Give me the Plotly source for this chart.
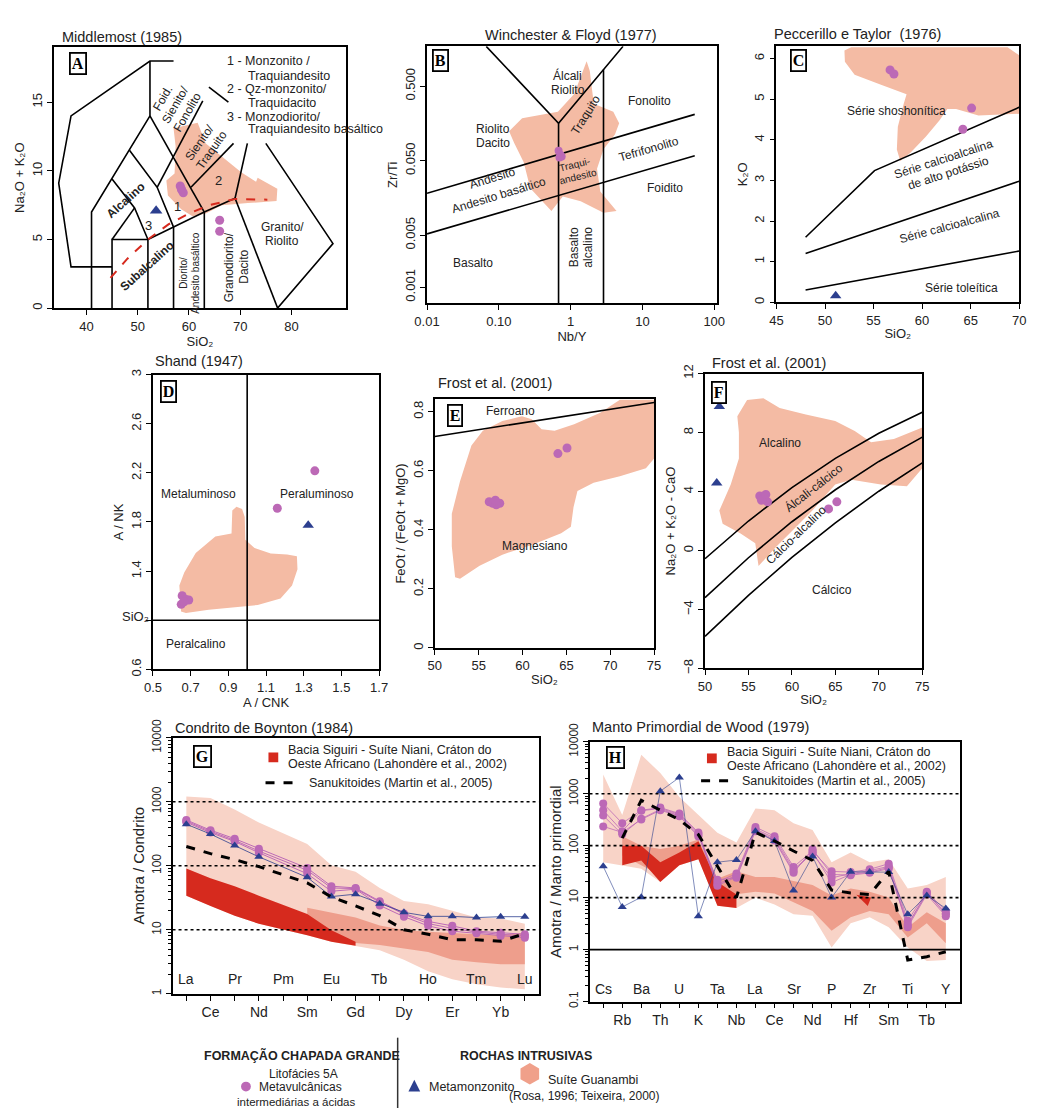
import numpy as np
import plotly.graph_objects as go

W, H = 1037, 1115
FONT = "Liberation Sans, Arial, sans-serif"
SERIF = "Liberation Serif, DejaVu Serif, serif"
PINK = "#F4BBA4"
MAG = "#BC69B6"
BLUE = "#2C3F8F"
RED = "#D62A1E"
LIGHT = "#F8D3C7"
MID = "#EE9E8C"
TXT = "#222222"

# ---------------- Panel A : Middlemost (1985) ----------------
A_lines = [
    ([45, 37, 34.6, 37, 52.4, 57], [3, 3, 9.1, 14, 18, 18]),
    ([52.4, 52.4], [18, 14]),
    ([41, 41, 52.4], [0, 7, 14]),
    ([52.4, 63], [14, 7]),
    ([45, 45, 52, 52], [0, 5, 5, 0]),
    ([52, 57, 63, 69], [5, 5.9, 7, 8]),
    ([57, 57], [0, 5.9]),
    ([63, 63], [0, 7]),
    ([69, 77.3], [8, 0]),
    ([69, 71.4], [8, 12]),
    ([48.4, 53.8, 57], [11.5, 8.8, 5.9]),
    ([45, 49.4, 52], [9.4, 7.3, 5]),
    ([45, 49.4], [5, 7.3]),
    ([53.8, 62.7], [8.8, 15.1]),
    ([60.4, 68.7], [8.8, 12.0]),
    ([63.9, 67.7], [16.1, 15.0]),
    ([75, 88.1, 77.3], [12, 4.7, 0]),
]
A_pink_x = [57.0, 61.7, 63.3, 67.7, 70.2, 73.1, 73.4, 77.25, 77.1, 71.5, 66.4, 63.3, 60.7, 58.5, 55.9, 55.6, 57.2, 57.4]
A_pink_y = [13.1, 13.5, 12.0, 10.7, 9.9, 9.2, 9.5, 8.7, 7.8, 7.65, 7.5, 6.9, 6.7, 7.2, 8.2, 9.3, 9.8, 11.8]
A_red_x = [44.7, 48, 52, 56, 60, 64, 69, 75.3]
A_red_y = [2.2, 3.6, 5.0, 6.1, 6.9, 7.5, 7.95, 7.9]
A_circ_x = [58.3, 58.6, 58.9, 58.5, 66.0, 66.0]
A_circ_y = [8.9, 8.6, 8.4, 8.7, 6.4, 5.6]
A_tri_x = [53.6]
A_tri_y = [7.1]

# ---------------- Panel B : Winchester & Floyd (1977) ----------------
B_lines = [
    ([0.0668, 0.679, 5.37], [1.71, 0.159, 1.71]),
    ([0.679, 0.679], [0.159, 0.000612]),
    ([2.87, 2.87], [0.834, 0.000612]),
    ([0.01, 53.5], [0.0183, 0.209]),
    ([0.01, 53.5], [0.00521, 0.0583]),
]
B_pink_x = [0.139, 0.211, 0.665, 1.12, 1.67, 1.85, 2.10, 3.93, 4.74, 4.14, 2.87, 2.33, 2.59, 4.36, 2.87, 1.38, 0.778, 0.54, 0.274, 0.222, 0.163]
B_pink_y = [0.124, 0.185, 0.226, 0.393, 1.08, 0.80, 0.291, 0.226, 0.159, 0.112, 0.0713, 0.039, 0.0193, 0.01055, 0.01, 0.01425, 0.0166, 0.01055, 0.0213, 0.0477, 0.087]
B_circ_x = [0.68, 0.72, 0.75, 0.70]
B_circ_y = [0.068, 0.060, 0.057, 0.055]

# ---------------- Panel C : Peccerillo & Taylor (1976) ----------------
C_lines = [
    ([48, 55.1, 70], [1.6, 3.24, 4.8]),
    ([48, 70], [1.2, 2.98]),
    ([48, 70], [0.3, 1.26]),
]
C_pink_x = [52.0, 52.7, 68.8, 70, 70, 65.8, 63.5, 62.6, 61.8, 60.4, 58.8, 57.75, 57.4, 57.5, 58.1, 58.4, 55.7, 53.05, 52.05]
C_pink_y = [6.2, 6.28, 6.28, 6.08, 4.64, 4.6, 4.76, 4.76, 4.48, 4.08, 3.68, 3.48, 3.76, 4.32, 4.88, 5.12, 5.36, 5.6, 5.92]
C_circ_x = [56.7, 57.1, 65.1, 64.2]
C_circ_y = [5.72, 5.62, 4.78, 4.26]
C_tri_x = [51.1]
C_tri_y = [0.16]

# ---------------- Panel D : Shand (1947) ----------------
D_lines = [([1.0, 1.0], [0.6, 3.0]), ([0.5, 1.7], [1.0, 1.0])]
D_pink_x = [0.649, 0.640, 0.666, 0.727, 0.831, 0.917, 0.921, 0.943, 0.973, 0.987, 0.99, 1.039, 1.125, 1.212, 1.264, 1.267, 1.238, 1.177, 1.056, 0.917, 0.796, 0.675]
D_pink_y = [1.071, 1.284, 1.389, 1.548, 1.681, 1.707, 1.893, 1.925, 1.906, 1.840, 1.655, 1.588, 1.544, 1.536, 1.522, 1.416, 1.284, 1.178, 1.125, 1.103, 1.085, 1.059]
D_circ_x = [0.655, 0.675, 0.69, 0.65, 0.665, 1.16, 1.359]
D_circ_y = [1.20, 1.17, 1.165, 1.13, 1.15, 1.912, 2.216]
D_tri_x = [1.324]
D_tri_y = [1.774]

# ---------------- Panel E : Frost et al. (2001) ----------------
E_lines = [([50, 75], [0.716, 0.831])]
E_pink_x = [52.31, 51.93, 51.93, 52.87, 54.17, 55.47, 57.7, 59.93, 61.05, 62.17, 63.65, 65.88, 68.86, 71.1, 75, 75, 74.07, 71.1, 68.1, 66.26, 65.81, 65.51, 64.4, 61.05, 57.7, 55.1, 52.87]
E_pink_y = [0.239, 0.344, 0.454, 0.564, 0.685, 0.735, 0.768, 0.784, 0.774, 0.740, 0.735, 0.757, 0.796, 0.840, 0.840, 0.641, 0.608, 0.581, 0.559, 0.531, 0.476, 0.410, 0.388, 0.349, 0.316, 0.278, 0.234]
E_circ_x = [56.2, 56.6, 57.0, 57.4, 56.9, 64.03, 65.07]
E_circ_y = [0.495, 0.49, 0.485, 0.49, 0.50, 0.658, 0.677]

# ---------------- Panel F : Frost et al. (2001) ----------------
F_sio2 = [50, 55, 60, 65, 70, 75]
F_alk = [-0.56, 2.0, 4.27, 6.25, 7.95, 9.37]
F_alkcal = [-3.2, -0.49, 1.95, 4.12, 6.04, 7.69]
F_calalk = [-5.82, -3.04, -0.47, 1.88, 4.02, 5.94]
F_pink_x = [53.72, 54.84, 56.72, 58.59, 61.6, 64.98, 67.23, 69.11, 71.73, 75, 75, 73.23, 70.24, 66.86, 64.98, 62.35, 60.1, 58.22, 56.16, 55.78, 54.09, 52.03, 51.65, 52.96, 53.9, 53.9]
F_pink_y = [9.11, 10.21, 10.32, 9.66, 9.22, 8.78, 8.11, 7.34, 7.56, 8.34, 5.58, 4.36, 4.47, 4.80, 4.47, 2.71, 1.38, 0.28, -1.05, 0.5, 1.16, 1.82, 2.71, 4.47, 6.24, 8.0]
F_circ_x = [56.3, 56.8, 57.2, 56.5, 57.0, 64.22, 65.17]
F_circ_y = [3.7, 3.6, 3.3, 3.4, 3.8, 2.82, 3.30]
F_tri_x = [51.65, 51.35]
F_tri_y = [9.77, 4.58]

# ---------------- Panel G : Boynton (1984) chondrite ----------------
G_el = ["La", "Ce", "Pr", "Nd", "Pm", "Sm", "Eu", "Gd", "Tb", "Dy", "Ho", "Er", "Tm", "Yb", "Lu"]
G_mag = [
    [520, 360, 265, 185, None, 92, 48, 45, 28, 18, 13.5, 11.5, 9.5, 9, 8.5],
    [500, 345, 250, 170, None, 85, 45, 44, 27, 17.5, 12.5, 10.5, 9.2, 8.5, 8],
    [480, 330, 240, 160, None, 75, 40, 43, 24, 16, 11.5, 9.5, 8.8, 8, 7.5],
]
G_tri = [447, 313, 207, 138, None, 66, 33, 36, 25.6, 18.7, 16.2, 16.2, 15.5, 16, 16]
G_sanuk = [200, 155, 125, 97, None, 54, 32.5, 23.6, 16.6, 10, 8.5, 7, 7, 6.6, 8.7]
G_light_up = [1210, 1150, 760, 473, None, 220, 102, 81, 45, 28.2, 25, 19.8, 15.6, 15, 12.4]
G_light_lo = [34, 23.6, 16.6, 12.4, None, 8.2, 6.5, 5.6, 4.8, 3.4, 2.25, 1.68, 1.41, 1.25, 1.18]
G_mid_up = [None, None, None, None, None, 22, 18.6, 15.6, 11.7, 9.9, 9.3, 8.8, 8.5, 8.3, 9]
G_mid_lo = [None, None, None, None, None, 9, 7, 6.2, 5.8, 5.1, 4.5, 3.4, 3.1, 2.9, 2.9]
G_red_up = [91, 64, 48, 34, None, 17.6, 9.8, 6.5, None, None, None, None, None, None, None]
G_red_lo = [34, 23.6, 16.6, 12.4, None, 8.2, 6.5, 5.6, None, None, None, None, None, None, None]
G_ref = [10, 100, 1000]

# ---------------- Panel H : Wood (1979) primordial mantle ----------------
H_el = ["Cs", "Rb", "Ba", "Th", "U", "K", "Ta", "Nb", "La", "Ce", "Sr", "Nd", "P", "Hf", "Zr", "Sm", "Ti", "Tb", "Y"]
H_mag = [
    [650, 270, 480, 540, 415, 180, 20, 29, 228, 152, 39, 79, 32, 31, 35, 45, 3.6, 13, 5.5],
    [480, 190, 470, 520, 400, 170, 18, 27, 210, 140, 35, 70, 24, 29, 33, 40, 3.1, 12, 5.0],
    [380, 165, 330, 500, 380, 160, 17, 25, 200, 130, 32, 75, 19.5, 28, 31, 38, 2.7, 11.5, 4.4],
    [235, 180, 320, 480, 370, 150, 22, 24, 190, 125, 30, 85, 28, 27, 30, 36, 2.9, 12.5, 4.8],
]
H_tri = [40, 6.6, 10.2, 1120, 2050, 4.4, 48, 53, 190, 123, 13.7, 62, 10, 31.6, 31, 31, 4.8, 11, 6.2]
H_sanuk = [None, 140, 745, 480, 316, 163, 40, 10, 180, 123, 79, 52, 14, 12.3, 11.5, 32, 0.63, 0.73, 0.91]
H_light_up = [2350, 390, 5600, 2500, 860, 390, 178, 115, 520, 480, 270, 200, 48, 74, 48, 55, 15, 17.5, 25]
H_light_lo = [48, 42, 36, 20, 42, 55, 7, 6.3, 10, 7.4, 4.8, 4.5, 1.1, 3.2, 4.2, 2.7, 1.1, 0.6, 0.63]
H_mid_up = [None, 152, 100, 86, 100, 132, 23, 32, 25, 25, 21, 17.5, 11, 15, 13, 10, 2.7, 5.2, 3.2]
H_mid_lo = [None, 65, 42, 27, 50, 60, 13, 11.6, 13, 12, 8, 5.5, 2.3, 4.2, 5.5, 4.8, 1.7, 3.2, 1.33]
H_red_up = [None, 100, 100, 48, 74, 122, 20, 11.5] + [None] * 11
H_red_lo = [None, 42, 52, 20, 42, 55, 7, 6.3] + [None] * 11
H_red2_x = [13.3, 14.07, 13.9]
H_red2_y = [11.4, 10, 6.9]
H_ref = [10, 100, 1000]
H_base = 1

# =====================================================================
fig = go.Figure()


def P(px):
    return px / W


def Q(py):
    return 1 - py / H


def ax(n):
    return ("x" if n == 1 else f"x{n}"), ("y" if n == 1 else f"y{n}")


def poly(n, xs, ys, color):
    xa, ya = ax(n)
    fig.add_trace(go.Scatter(x=list(xs) + [xs[0]], y=list(ys) + [ys[0]], mode="lines", fill="toself",
                             fillcolor=color, line=dict(width=0), hoverinfo="skip", showlegend=False,
                             xaxis=xa, yaxis=ya))


def band(n, up, lo, color):
    idx = [i for i in range(len(up)) if up[i] is not None and lo[i] is not None]
    xs = idx + idx[::-1]
    ys = [up[i] for i in idx] + [lo[i] for i in idx[::-1]]
    poly(n, xs, ys, color)


def line(n, xs, ys, color="black", width=1.6, dash=None):
    xa, ya = ax(n)
    fig.add_trace(go.Scatter(x=xs, y=ys, mode="lines", line=dict(color=color, width=width, dash=dash),
                             hoverinfo="skip", showlegend=False, xaxis=xa, yaxis=ya, connectgaps=True))


def pts(n, xs, ys, symbol="circle", color=MAG, size=9):
    xa, ya = ax(n)
    fig.add_trace(go.Scatter(x=xs, y=ys, mode="markers",
                             marker=dict(symbol=symbol, color=color, size=size, line=dict(width=0)),
                             hoverinfo="skip", showlegend=False, xaxis=xa, yaxis=ya))


def series(n, xs, ys, color, symbol, size, lw):
    xa, ya = ax(n)
    fig.add_trace(go.Scatter(x=xs, y=ys, mode="lines+markers", connectgaps=True,
                             line=dict(color=color, width=lw),
                             marker=dict(symbol=symbol, color=color, size=size, line=dict(width=0)),
                             hoverinfo="skip", showlegend=False, xaxis=xa, yaxis=ya))


annots = []


def txt(text, x, y, n=None, size=12, angle=0, family=FONT, xanchor="center", color=TXT,
        logx=False, logy=False, xshift=0, yshift=0):
    if n is None:
        xr, yr = "paper", "paper"
        x, y = P(x), Q(y)
    else:
        xa, ya = ax(n)
        xr, yr = xa, ya
        if logx:
            x = float(np.log10(x))
        if logy:
            y = float(np.log10(y))
    annots.append(dict(text=text, x=x, y=y, xref=xr, yref=yr, showarrow=False, textangle=angle,
                       xanchor=xanchor, yanchor="middle", xshift=xshift, yshift=yshift,
                       font=dict(family=family, size=size, color=color)))


def mtxt(lines, x, y, n, size=12, angle=0, **kw):
    """multi-line label written as one annotation per line, stacked perpendicular to the text direction"""
    th = np.radians(angle)
    lh = 1.2 * size
    k = len(lines)
    for i, s in enumerate(lines):
        d = (i - (k - 1) / 2) * lh
        txt(s, x, y, n, size, angle, xshift=float(-np.sin(th) * d), yshift=float(-np.cos(th) * d), **kw)


def letter(L, cx, cy):
    annots.append(dict(text=f"<b>{L}</b>", x=P(cx), y=Q(cy), xref="paper", yref="paper", showarrow=False,
                       font=dict(family=SERIF, size=16, color="black"), bordercolor="black", borderwidth=1.8,
                       borderpad=1, bgcolor="white", xanchor="center", yanchor="middle"))


# ---------------- draw A ----------------
poly(1, A_pink_x, A_pink_y, PINK)
for xs, ys in A_lines:
    line(1, xs, ys)
line(1, A_red_x, A_red_y, color=RED, width=2, dash="dash")
pts(1, A_circ_x, A_circ_y)
pts(1, A_tri_x, A_tri_y, "triangle-up", BLUE, 11)
mtxt(["Foid.", "Sienito/", "Fonolito"], 57.3, 14.8, 1, 12, -60)
mtxt(["Sienito/", "Traquito"], 63.3, 11.8, 1, 12, -55)
txt("<b>Alcalino</b>", 47.7, 7.9, 1, 12, -42)
txt("<b>Subalcalino</b>", 51.8, 3.1, 1, 12, -42)
mtxt(["Diorito/", "Andesito basáltico"], 60.1, 2.6, 1, 10, -90)
mtxt(["Granodiorito/", "Dacito"], 69.3, 3.0, 1, 12, -90)
mtxt(["Granito/", "Riolito"], 78.2, 5.4, 1, 12)
txt("1", 57.8, 7.4, 1, 13)
txt("2", 65.7, 9.3, 1, 13)
txt("3", 52.2, 6.0, 1, 13)
for s, xx, yy in [("1 - Monzonito /", 217, 43), ("Traquiandesito", 238, 58), ("2 - Qz-monzonito/", 217, 72),
                  ("Traquidacito", 238, 86), ("3 - Monzodiorito/", 217, 100), ("Traquiandesito basáltico", 238, 113)]:
    txt(s, xx, yy, None, 12.5, xanchor="left")

# ---------------- draw B ----------------
poly(2, B_pink_x, B_pink_y, PINK)
for xs, ys in B_lines:
    line(2, xs, ys)
pts(2, B_circ_x, B_circ_y, size=8)
for s, xx, yy, ang, sz in [(["Álcali", "Riolito"], 0.91, 0.56, 0, 12), (["Fonolito"], 12.4, 0.32, 0, 12),
                           (["Riolito", "Dacito"], 0.082, 0.107, 0, 12), (["Traquito"], 1.62, 0.205, -58, 12),
                           (["Tefrifonolito"], 12.4, 0.071, -16, 12), (["Traqui-", "andesito"], 1.2, 0.037, -14, 10),
                           (["Andesito"], 0.082, 0.029, -17, 12), (["Andesito basáltico"], 0.1016, 0.0174, -17, 12),
                           (["Foidito"], 20.9, 0.0213, 0, 12), (["Basalto"], 0.044, 0.0021, 0, 12),
                           (["Basalto", "alcalino"], 1.38, 0.0035, -90, 12)]:
    mtxt(s, xx, yy, 2, sz, ang, logx=True, logy=True)

# ---------------- draw C ----------------
poly(3, C_pink_x, C_pink_y, PINK)
for xs, ys in C_lines:
    line(3, xs, ys)
pts(3, C_circ_x, C_circ_y)
pts(3, C_tri_x, C_tri_y, "triangle-up", BLUE, 10)
txt("Série shoshonítica", 52.05, 4.72, 3, 12, xanchor="left")
mtxt(["Série calcioalcalina", "de alto potássio"], 62.45, 3.36, 3, 12, -18)
txt("Série calcioalcalina", 62.8, 1.88, 3, 12, -15)
txt("Série toleítica", 64.1, 0.36, 3, 12)

# ---------------- draw D ----------------
poly(4, D_pink_x, D_pink_y, PINK)
for xs, ys in D_lines:
    line(4, xs, ys)
pts(4, D_circ_x, D_circ_y)
pts(4, D_tri_x, D_tri_y, "triangle-up", BLUE, 10)
txt("Metaluminoso", 0.744, 2.025, 4, 12)
txt("Peraluminoso", 1.368, 2.025, 4, 12)
txt("Peralcalino", 0.727, 0.807, 4, 12)
txt("SiO₂", 125, 612, None, 13)

# ---------------- draw E ----------------
poly(5, E_pink_x, E_pink_y, PINK)
for xs, ys in E_lines:
    line(5, xs, ys)
pts(5, E_circ_x, E_circ_y)
txt("Ferroano", 58.63, 0.801, 5, 12)
txt("Magnesiano", 61.42, 0.344, 5, 12)

# ---------------- draw F ----------------
poly(6, F_pink_x, F_pink_y, PINK)
for ys in (F_alk, F_alkcal, F_calalk):
    line(6, F_sio2, ys)
pts(6, F_circ_x, F_circ_y)
pts(6, F_tri_x, F_tri_y, "triangle-up", BLUE, 10)
txt("Alcalino", 58.59, 7.3, 6, 12)
txt("Álcali-cálcico", 62.5, 4.25, 6, 12, -38)
txt("Cálcio-alcalino", 60.47, 1.05, 6, 12, -44)
txt("Cálcico", 64.6, -2.7, 6, 12)

# ---------------- draw G ----------------
band(7, G_light_up, G_light_lo, LIGHT)
band(7, G_mid_up, G_mid_lo, MID)
band(7, G_red_up, G_red_lo, RED)
gx = list(range(len(G_el)))
for s in G_mag:
    series(7, gx, s, MAG, "circle", 8, 1)
series(7, gx, G_tri, BLUE, "triangle-up", 8, 0.8)
line(7, gx, G_sanuk, "black", 3, "dash")
for i, e in enumerate(G_el):
    if i % 2 == 0:
        annots.append(dict(text=e, x=i, y=0.23, xref="x7", yref="y7", showarrow=False,
                           font=dict(family=FONT, size=14, color=TXT)))

# ---------------- draw H ----------------
band(8, H_light_up, H_light_lo, LIGHT)
band(8, H_mid_up, H_mid_lo, MID)
band(8, H_red_up, H_red_lo, RED)
poly(8, H_red2_x, H_red2_y, RED)
hx = list(range(len(H_el)))
for s in H_mag:
    series(8, hx, s, MAG, "circle", 8, 0.8)
series(8, hx, H_tri, BLUE, "triangle-up", 8, 0.6)
line(8, hx, H_sanuk, "black", 3, "dash")
for i, e in enumerate(H_el):
    if i % 2 == 0:
        annots.append(dict(text=e, x=i, y=-0.76, xref="x8", yref="y8", showarrow=False,
                           font=dict(family=FONT, size=14, color=TXT)))

# reference lines G/H (shape coordinates on log axes are data values)
shapes = []
for v in G_ref:
    shapes.append(dict(type="line", xref="x7 domain", yref="y7", x0=0, x1=1, y0=v, y1=v,
                       line=dict(color="black", width=1.6, dash="dot")))
for v in H_ref:
    shapes.append(dict(type="line", xref="x8 domain", yref="y8", x0=0, x1=1, y0=v, y1=v,
                       line=dict(color="black", width=1.6, dash="dot")))
shapes.append(dict(type="line", xref="x8 domain", yref="y8", x0=0, x1=1, y0=H_base, y1=H_base,
                   line=dict(color="black", width=1.6)))

# legends inside G and H
for sqx, sqy, tx, ty1, ty2, dx0, dx1, dy, tx2 in [(266, 756, 279, 748, 763, 258, 287, 782, 300),
                                                  (714, 757, 727, 750, 765, 703, 731, 780, 743)]:
    shapes.append(dict(type="rect", xref="paper", yref="paper", x0=P(sqx - 5), x1=P(sqx + 5),
                       y0=Q(sqy + 5), y1=Q(sqy - 5), fillcolor=RED, line=dict(width=0)))
    shapes.append(dict(type="line", xref="paper", yref="paper", x0=P(dx0), x1=P(dx1), y0=Q(dy), y1=Q(dy),
                       line=dict(color="black", width=3, dash="dash")))
    txt("Bacia Siguiri - Suíte Niani, Cráton do", tx, ty1, None, 12.5, xanchor="left")
    txt("Oeste Africano (Lahondère et al., 2002)", tx, ty2, None, 12.5, xanchor="left")
    txt("Sanukitoides (Martin et al., 2005)", tx2, dy, None, 12.5, xanchor="left")

# panel titles
for s, xx, yy in [("Middlemost (1985)", 48, 18), ("Winchester & Floyd (1977)", 480, 16),
                  ("Peccerillo e Taylor  (1976)", 775, 15), ("Shand (1947)", 143, 350),
                  ("Frost et al. (2001)", 432, 373), ("Frost et al. (2001)", 712, 352),
                  ("Condrito de Boynton (1984)", 163, 726), ("Manto Primordial de Wood (1979)", 590, 725)]:
    txt(s, xx, yy, None, 14.5, xanchor="left")

for L, cx, cy in [("A", 66, 46), ("B", 437, 43), ("C", 803, 42), ("D", 159, 381), ("E", 452, 406),
                  ("F", 721, 382), ("G", 194, 755), ("H", 616, 756)]:
    letter(L, cx, cy)

# bottom legend
txt("<b>FORMAÇÃO CHAPADA GRANDE</b>", 295, 1061, None, 12.5)
txt("Litofácies 5A", 297, 1080, None, 12)
txt("Metavulcânicas", 294, 1094, None, 12)
txt("intermediárias a ácidas", 290, 1109, None, 11.5)
txt("<b>ROCHAS INTRUSIVAS</b>", 524, 1062, None, 12.5)
txt("Metamonzonito", 423, 1093, None, 12.5, xanchor="left")
txt("Suíte Guanambi", 545, 1086, None, 12.5, xanchor="left")
txt("(Rosa, 1996; Teixeira, 2000)", 584, 1103, None, 12)
shapes.append(dict(type="circle", xref="paper", yref="paper", x0=P(233), x1=P(243), y0=Q(1098), y1=Q(1088),
                   fillcolor=MAG, line=dict(width=0)))
shapes.append(dict(type="path", xref="paper", yref="paper",
                   path=f"M {P(404)},{Q(1098)} L {P(416)},{Q(1098)} L {P(410)},{Q(1086)} Z",
                   fillcolor=BLUE, line=dict(width=0)))
hexpts = []
for k in range(6):
    a = np.radians(90 + 60 * k)
    hexpts.append(f"{P(528 + 11 * np.cos(a))},{Q(1080 - 11 * np.sin(a))}")
shapes.append(dict(type="path", xref="paper", yref="paper", path="M " + " L ".join(hexpts) + " Z",
                   fillcolor="#F0A08A", line=dict(width=0)))
shapes.append(dict(type="line", xref="paper", yref="paper", x0=P(393), x1=P(393), y0=Q(1043), y1=Q(1115),
                   line=dict(color="#333", width=1.5)))

# ---------------- axes ----------------
TICKF = dict(family=FONT, size=13, color=TXT)
TITF = dict(family=FONT, size=13, color=TXT)


def base():
    return dict(showline=True, linecolor="black", linewidth=1.8, mirror=True, ticks="outside", ticklen=5,
                tickcolor="black", tickwidth=1, showgrid=False, zeroline=False, tickfont=TICKF)


layout_axes = {}
specs = {
    1: ((42, 340), (29, 296)),
    2: ((423, 719), (28, 291)),
    3: ((780, 1028), (28, 290)),
    4: ((143, 374), (364, 666)),
    5: ((431, 655), (389, 644)),
    6: ((707, 929), (363, 665)),
    7: ((163, 537), (736, 998)),
    8: ((589, 968), (740, 1006)),
}
xk = {}
yk = {}
xk[1] = dict(range=[33.7, 90.6], tickvals=[40, 50, 60, 70, 80], title=dict(text="SiO₂", font=TITF, standoff=2))
yk[1] = dict(range=[0, 19], tickvals=[0, 5, 10, 15], tickangle=-90,
             title=dict(text="Na₂O + K₂O", font=TITF, standoff=2))
xk[2] = dict(type="log", range=[-2, 2.035], tickvals=[0.01, 0.1, 1, 10, 100], ticktext=["0.01", "0.10", "1", "10", "100"],
             title=dict(text="Nb/Y", font=TITF, standoff=2))
yk[2] = dict(type="log", range=[-3.213, 0.233], tickvals=[0.001, 0.005, 0.05, 0.5],
             ticktext=["0.001", "0.005", "0.050", "0.500"], tickangle=-90,
             title=dict(text="Zr/Ti", font=TITF, standoff=2))
xk[3] = dict(range=[45, 70], tickvals=[45, 50, 55, 60, 65, 70], title=dict(text="SiO₂", font=TITF, standoff=2))
yk[3] = dict(range=[0, 6.3], tickvals=[0, 1, 2, 3, 4, 5, 6], tickangle=-90,
             title=dict(text="K₂O", font=TITF, standoff=2))
xk[4] = dict(range=[0.5, 1.7], tickvals=[0.5, 0.7, 0.9, 1.1, 1.3, 1.5, 1.7],
             title=dict(text="A / CNK", font=TITF, standoff=2))
yk[4] = dict(range=[0.6, 3.0], tickvals=[0.6, 1.4, 1.8, 2.2, 2.6, 3.0],
             ticktext=["0.6", "1.4", "1.8", "2.2", "2.6", "3"], tickangle=-90,
             minor=dict(tickmode="array", tickvals=[1.0], ticks="outside", ticklen=5, tickcolor="black"),
             title=dict(text="A / NK", font=TITF, standoff=2))
xk[5] = dict(range=[50, 75], tickvals=[50, 55, 60, 65, 70, 75], title=dict(text="SiO₂", font=TITF, standoff=2))
yk[5] = dict(range=[0, 0.843], tickvals=[0, 0.2, 0.4, 0.6, 0.8], ticktext=["0", "0.2", "0.4", "0.6", "0.8"],
             tickangle=-90, title=dict(text="FeOt / (FeOt + MgO)", font=TITF, standoff=2))
xk[6] = dict(range=[50, 75], tickvals=[50, 55, 60, 65, 70, 75], title=dict(text="SiO₂", font=TITF, standoff=2))
yk[6] = dict(range=[-8, 12], tickvals=[-8, -4, 0, 4, 8, 12], tickangle=-90,
             title=dict(text="Na₂O + K₂O - CaO", font=TITF, standoff=2))
xk[7] = dict(range=[-0.57, 14.57], tickvals=[i for i in range(len(G_el)) if i % 2 == 1],
             ticktext=[e for i, e in enumerate(G_el) if i % 2 == 1],
             minor=dict(tickmode="array", tickvals=[i for i in range(len(G_el)) if i % 2 == 0],
                        ticks="outside", ticklen=5, tickcolor="black"),
             tickfont=dict(family=FONT, size=14, color=TXT))
yk[7] = dict(type="log", range=[0, 4], tickvals=[1, 10, 100, 1000, 10000],
             ticktext=["1", "10", "100", "1000", "10000"], tickangle=-90, tickfont=dict(family=FONT, size=12, color=TXT),
             minor=dict(ticks="outside", ticklen=3, tickcolor="black", dtick="D1"),
             title=dict(text="Amotra / Condrito", font=dict(family=FONT, size=15, color=TXT), standoff=2))
xk[8] = dict(range=[-0.72, 18.77], tickvals=[i for i in range(len(H_el)) if i % 2 == 1],
             ticktext=[e for i, e in enumerate(H_el) if i % 2 == 1],
             minor=dict(tickmode="array", tickvals=[i for i in range(len(H_el)) if i % 2 == 0],
                        ticks="outside", ticklen=5, tickcolor="black"),
             tickfont=dict(family=FONT, size=14, color=TXT))
yk[8] = dict(type="log", range=[-1, 4], tickvals=[0.1, 1, 10, 100, 1000, 10000],
             ticktext=["0.1", "1", "10", "100", "1000", "10000"], tickangle=-90,
             tickfont=dict(family=FONT, size=12, color=TXT),
             minor=dict(ticks="outside", ticklen=3, tickcolor="black", dtick="D1"),
             title=dict(text="Amotra / Manto primordial", font=dict(family=FONT, size=15, color=TXT), standoff=2))

for n, ((x0, x1), (y0, y1)) in specs.items():
    xname = "xaxis" if n == 1 else f"xaxis{n}"
    yname = "yaxis" if n == 1 else f"yaxis{n}"
    xa, ya = ax(n)
    bx = base()
    bx.update(xk[n])
    bx.update(domain=[P(x0), P(x1)], anchor=ya)
    by = base()
    by.update(yk[n])
    by.update(domain=[Q(y1), Q(y0)], anchor=xa)
    layout_axes[xname] = bx
    layout_axes[yname] = by

fig.update_layout(width=W, height=H, margin=dict(l=0, r=0, t=0, b=0), paper_bgcolor="white",
                  plot_bgcolor="white", showlegend=False, annotations=annots, shapes=shapes,
                  font=dict(family=FONT, color=TXT), **layout_axes)

fig.write_html("out.html")
